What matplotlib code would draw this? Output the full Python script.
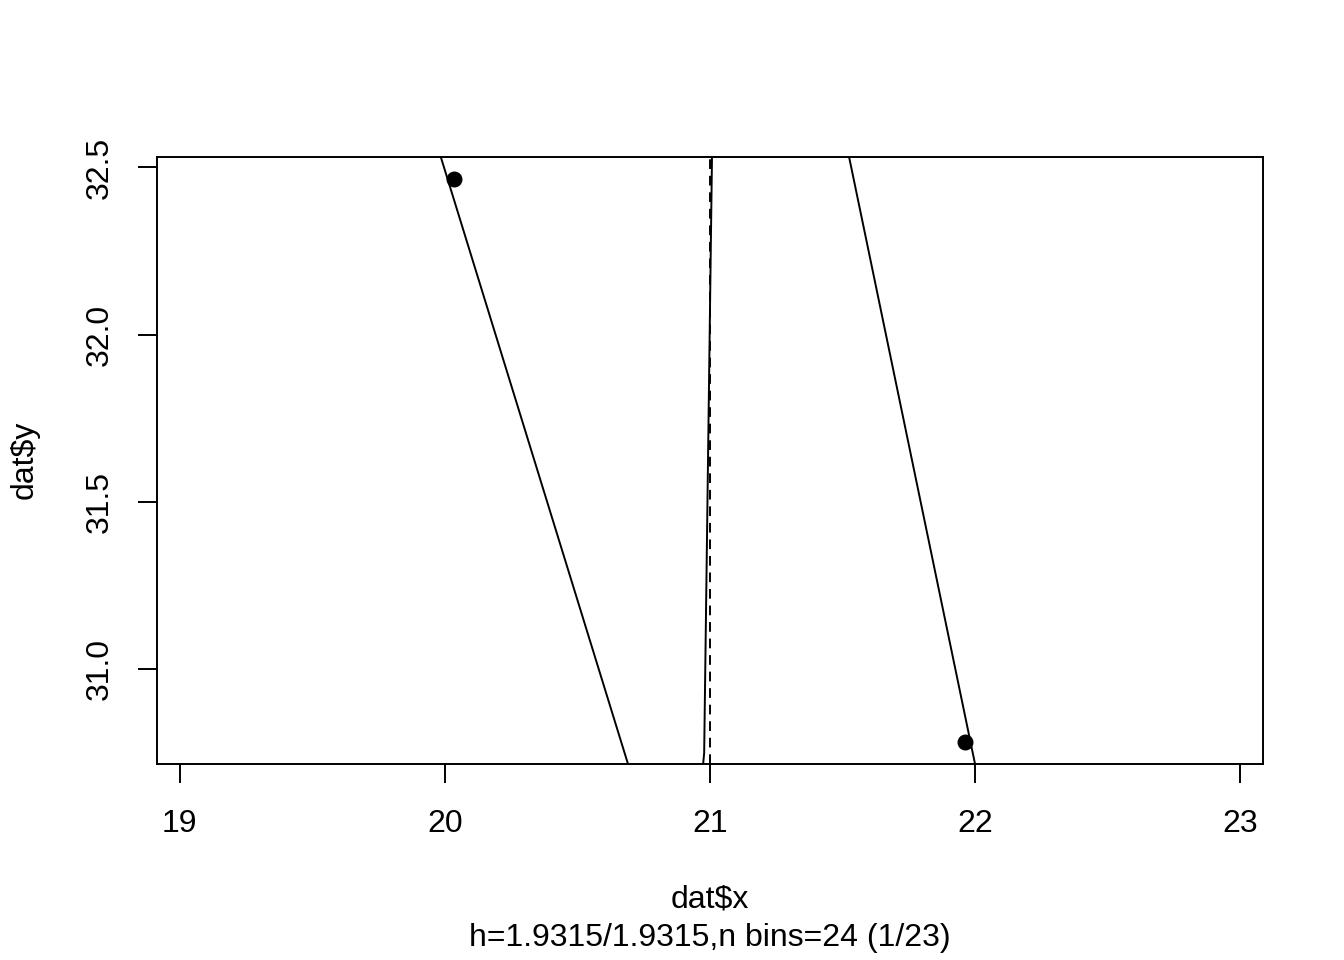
import matplotlib
matplotlib.use("Agg")
import matplotlib.pyplot as plt

plt.rcParams['font.family'] = ['Liberation Sans', 'DejaVu Sans']

# points
pt_x = [20.034, 21.962]
pt_y = [32.464, 30.784]

# fitted lines (x at given y)
line1_x = [19.985, 20.691]
line1_y = [32.53, 30.716]
line2_x = [21.0075, 20.978, 20.974]
line2_y = [32.53, 30.75, 30.716]
line3_x = [21.525, 22.0]
line3_y = [32.53, 30.716]
vline_x = 21.0

x_ticks = [19, 20, 21, 22, 23]
y_ticks = [31.0, 31.5, 32.0, 32.5]
h = 1.9315

fs = 23

fig = plt.figure(figsize=(13.44, 9.6), dpi=100)
ax = fig.add_axes([157/1344, 1 - 764/960, (1263-157)/1344, (764-157)/960])

ax.plot(line1_x, line1_y, color='black', lw=1.4)
ax.plot(line2_x, line2_y, color='black', lw=1.4)
ax.plot(line3_x, line3_y, color='black', lw=1.4)
ax.axvline(vline_x, color='black', lw=1.4, dashes=(5, 3.5))
ax.scatter(pt_x, pt_y, s=110, color='black', zorder=3)

xr = 2 * h
ax.set_xlim(21 - h - 0.04 * xr, 21 + h + 0.04 * xr)
yr = max(pt_y) - min(pt_y)
ax.set_ylim(min(pt_y) - 0.04 * yr, max(pt_y) + 0.04 * yr)

ax.set_xticks(x_ticks)
ax.set_xticklabels([str(t) for t in x_ticks])
ax.set_yticks(y_ticks)
ax.set_yticklabels(['%.1f' % t for t in y_ticks], rotation=90, va='center')
ax.tick_params(axis='both', length=13.7, width=1.4, labelsize=fs)
ax.tick_params(axis='x', pad=19)
ax.tick_params(axis='y', pad=17)
for sp in ax.spines.values():
    sp.set_linewidth(1.4)

fig.text(710/1344, 1 - 900/960, 'dat$x', ha='center', va='center', fontsize=fs)
fig.text(710/1344, 1 - 938/960, 'h=1.9315/1.9315,n bins=24 (1/23)', ha='center', va='center', fontsize=fs)
fig.text(25/1344, 1 - 460/960, 'dat$y', ha='center', va='center', rotation=90, fontsize=fs)

fig.savefig('out.png', dpi=100)
